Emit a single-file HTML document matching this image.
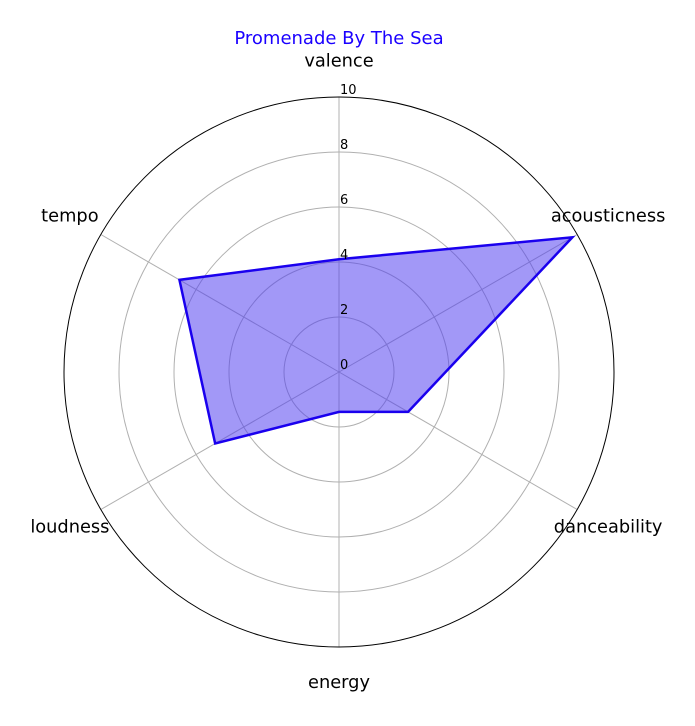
<!DOCTYPE html>
<html><head><meta charset="utf-8"><style>body{margin:0;background:#fff}svg{font-family:"DejaVu Sans","Liberation Sans",sans-serif}</style></head>
<body>
<svg id="chart" width="695" height="721" xmlns="http://www.w3.org/2000/svg">
<text x="339" y="44" text-anchor="middle" font-size="18" fill="#1a00ff">Promenade By The Sea</text>
<g id="grid"></g><g id="series"></g><g id="labels"></g>
</svg>
<script>
const categories=["valence","acousticness","danceability","energy","loudness","tempo"];
const values=[4.1,9.8,2.9,1.45,5.2,6.7];
const tickValues=[0,2,4,6,8,10];
const tickLabels=["0","2","4","6","8","10"];
const cx=339,cy=372,R=275,maxV=10;
const NS="http://www.w3.org/2000/svg";
const r=v=>v/maxV*R;
const ang=i=>Math.PI/2-i*2*Math.PI/categories.length;
const pt=(i,v)=>[cx+r(v)*Math.cos(ang(i)),cy-r(v)*Math.sin(ang(i))];
function mk(t,a,p){const e=document.createElementNS(NS,t);for(const k in a)e.setAttribute(k,a[k]);p.appendChild(e);return e;}
const g=document.getElementById('grid'),s=document.getElementById('series'),l=document.getElementById('labels');
tickValues.forEach((v,k)=>{if(v>0&&v<maxV){const c=mk('circle',{cx:cx,cy:cy,r:r(v),fill:'none',stroke:'#b0b0b0','stroke-width':1},g);

}});
categories.forEach((c,i)=>{const [x,y]=pt(i,maxV);const ln=mk('line',{x1:cx,y1:cy,x2:x,y2:y,stroke:'#b0b0b0','stroke-width':1},g);

});
const oc=mk('circle',{cx:cx,cy:cy,r:R,fill:'none',stroke:'#000','stroke-width':1},g);


const pts=values.map((v,i)=>pt(i,v).join(',')).join(' ');
const poly=mk('polygon',{points:pts,fill:'rgba(80,60,240,0.53)',stroke:'#1a00ee','stroke-width':2.5,'stroke-linejoin':'miter'},s);


tickValues.forEach((v,k)=>{const t=mk('text',{x:cx+1,y:cy-r(v)-3,'font-size':13,fill:'#000'},l);t.textContent=tickLabels[k];

});
categories.forEach((c,i)=>{const [x,y]=pt(i,11.3);const t=mk('text',{x:x,y:y+5,'font-size':17.8,'text-anchor':'middle',fill:'#000'},l);t.textContent=c;

});
</script>
</body></html>
